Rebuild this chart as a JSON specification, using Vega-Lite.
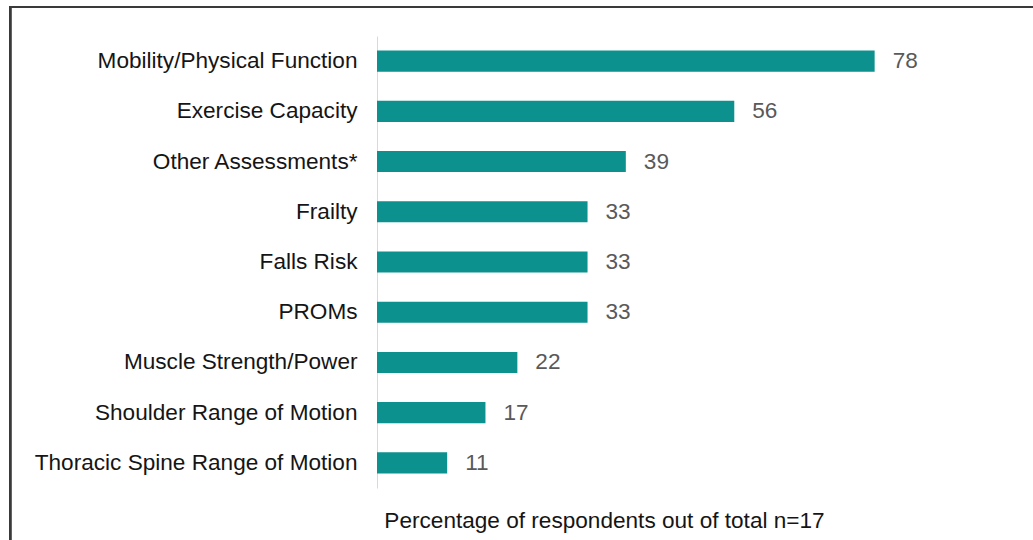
{
  "$schema": "https://vega.github.io/schema/vega-lite/v6.json",
  "width": 638,
  "height": 452,
  "autosize": "none",
  "padding": {"left": 377, "top": 36, "right": 18, "bottom": 52},
  "background": "white",
  "config": {"view": {"stroke": null}, "font": "Liberation Sans"},
  "data": {"values": [
    {"measure": "Mobility/Physical Function", "pct": 78},
    {"measure": "Exercise Capacity", "pct": 56},
    {"measure": "Other Assessments*", "pct": 39},
    {"measure": "Frailty", "pct": 33},
    {"measure": "Falls Risk", "pct": 33},
    {"measure": "PROMs", "pct": 33},
    {"measure": "Muscle Strength/Power", "pct": 22},
    {"measure": "Shoulder Range of Motion", "pct": 17},
    {"measure": "Thoracic Spine Range of Motion", "pct": 11}
  ]},
  "layer": [
    {
      "mark": {"type": "rect", "fill": null, "stroke": "#3a3a3a", "strokeWidth": 2},
      "encoding": {
        "x": {"datum": -57.5, "type": "quantitative"},
        "x2": {"datum": 115},
        "y": {"datum": 1.064, "type": "quantitative", "scale": {"domain": [0, 1]}, "axis": null},
        "y2": {"datum": -0.3}
      }
    },
    {
      "encoding": {
        "y": {"field": "measure", "type": "nominal", "sort": null,
              "scale": {"paddingInner": 0.58, "paddingOuter": 0.29},
              "axis": {"title": null, "ticks": false, "domain": true, "domainColor": "#d9d9d9", "domainWidth": 1,
                       "labelPadding": 20, "labelFontSize": 22.6, "labelLimit": 0, "labelColor": "#151515", "labelFont": "Liberation Sans"}},
        "x": {"field": "pct", "type": "quantitative", "scale": {"domain": [0, 100], "nice": false},
              "axis": {"title": "Percentage of respondents out of total n=17", "labels": false, "ticks": false, "domain": false, "grid": false,
                       "titleFontSize": 22.6, "titleFontWeight": "normal", "titleColor": "#151515", "titleFont": "Liberation Sans",
                       "titlePadding": 21, "titleX": 227, "titleAnchor": "middle"}}
      },
      "layer": [
        {"mark": {"type": "bar", "color": "#0c918e"}},
        {
          "mark": {"type": "text", "align": "left", "baseline": "middle", "dx": 18, "fontSize": 22.6, "color": "#595959", "font": "Liberation Sans"},
          "encoding": {"text": {"field": "pct", "type": "quantitative"}}
        }
      ]
    }
  ],
  "resolve": {"scale": {"y": "independent"}}
}
